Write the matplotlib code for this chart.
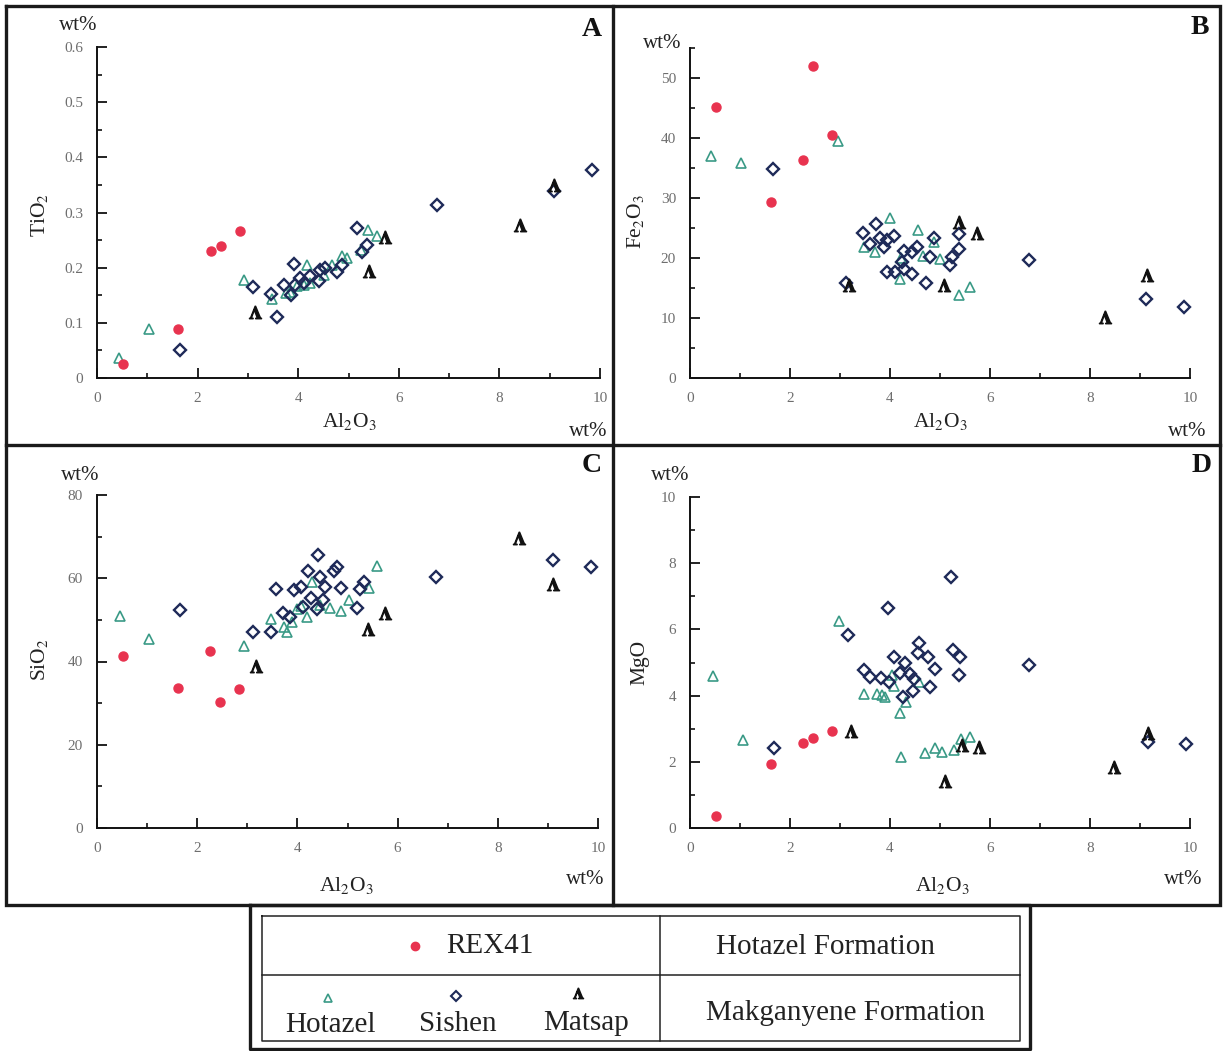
import matplotlib
matplotlib.use("Agg")
import matplotlib.pyplot as plt
from matplotlib.ticker import MultipleLocator

plt.rcParams["font.family"] = ["Liberation Serif", "DejaVu Serif"]
plt.rcParams["mathtext.fontset"] = "stix"

W, H, DPI = 1224, 1051, 100

# ---------------- data (wt%) ----------------
# REX41 drill core, Hotazel Formation
rex_al2o3 = [0.52, 1.62, 2.26, 2.46, 2.84]
rex_tio2 = [0.025, 0.088, 0.231, 0.240, 0.267]
rex_fe2o3 = [45.1, 29.3, 36.4, 52.0, 40.5]
rex_sio2 = [41.4, 33.6, 42.6, 30.3, 33.3]
rex_mgo = [0.36, 1.93, 2.58, 2.73, 2.94]

# Makganyene Formation - Hotazel samples
hot_al2o3_A = [0.44, 1.04, 2.93, 3.48, 3.75, 3.84, 3.98, 4.11, 4.18, 4.24, 4.51, 4.67, 4.87, 4.97, 5.24, 5.38, 5.56]
hot_tio2 = [0.036, 0.088, 0.178, 0.144, 0.154, 0.156, 0.166, 0.169, 0.205, 0.172, 0.187, 0.205, 0.221, 0.217, 0.232, 0.268, 0.257]
hot_al2o3_B = [0.42, 1.02, 2.95, 3.47, 3.70, 4.00, 4.20, 4.21, 4.55, 4.65, 4.88, 5.00, 5.38, 5.60]
hot_fe2o3 = [37.0, 35.9, 39.5, 21.9, 21.0, 26.7, 16.5, 20.0, 24.6, 20.4, 22.6, 19.9, 13.8, 15.2]
hot_al2o3_C = [0.45, 1.04, 2.94, 3.47, 3.73, 3.79, 3.89, 3.99, 4.07, 4.19, 4.29, 4.45, 4.66, 4.88, 5.02, 5.42, 5.59]
hot_sio2 = [50.9, 45.3, 43.7, 50.1, 48.2, 47.2, 49.6, 52.5, 53.3, 50.6, 59.2, 53.6, 52.8, 52.2, 54.8, 57.6, 62.9]
hot_al2o3_D = [0.45, 1.05, 2.98, 3.48, 3.73, 3.83, 3.90, 4.03, 4.08, 4.20, 4.21, 4.32, 4.57, 4.70, 4.90, 5.03, 5.27, 5.41, 5.60]
hot_mgo = [4.59, 2.66, 6.26, 4.05, 4.05, 4.02, 3.97, 4.62, 4.29, 3.47, 2.13, 3.82, 4.42, 2.26, 2.41, 2.31, 2.36, 2.69, 2.76]

# Makganyene Formation - Sishen samples
sis_al2o3_A = [1.65, 3.11, 3.45, 3.57, 3.71, 3.85, 3.92, 3.94, 4.04, 4.11, 4.24, 4.41, 4.44, 4.54, 4.77, 4.87, 5.17, 5.27, 5.36, 6.75, 9.08, 9.84]
sis_tio2 = [0.050, 0.165, 0.152, 0.111, 0.169, 0.150, 0.206, 0.169, 0.181, 0.172, 0.184, 0.175, 0.196, 0.199, 0.193, 0.205, 0.272, 0.229, 0.241, 0.313, 0.339, 0.377]
sis_al2o3_B = [1.66, 3.12, 3.45, 3.59, 3.71, 3.80, 3.87, 3.93, 3.93, 4.07, 4.10, 4.23, 4.27, 4.28, 4.43, 4.43, 4.53, 4.72, 4.79, 4.87, 5.19, 5.23, 5.37, 5.37, 6.77, 9.12, 9.88]
sis_fe2o3 = [34.8, 15.8, 24.1, 22.3, 25.7, 23.3, 21.8, 23.0, 17.7, 23.6, 17.7, 19.4, 18.1, 21.2, 21.0, 17.4, 21.8, 15.8, 20.1, 23.3, 18.8, 20.1, 24.0, 21.5, 19.6, 13.2, 11.8]
sis_al2o3_C = [1.66, 3.12, 3.47, 3.57, 3.72, 3.85, 3.93, 4.07, 4.12, 4.22, 4.27, 4.39, 4.42, 4.45, 4.52, 4.55, 4.74, 4.80, 4.88, 5.18, 5.24, 5.33, 6.77, 9.10, 9.86]
sis_sio2 = [52.4, 47.2, 47.2, 57.4, 51.6, 50.8, 57.2, 57.8, 53.2, 61.8, 55.2, 52.5, 65.6, 60.2, 54.8, 57.8, 61.8, 62.8, 57.6, 52.9, 57.3, 59.2, 60.4, 64.4, 62.6]
sis_al2o3_D = [1.68, 3.15, 3.47, 3.60, 3.81, 3.95, 3.97, 4.08, 4.20, 4.25, 4.30, 4.40, 4.45, 4.48, 4.55, 4.57, 4.75, 4.80, 4.90, 5.21, 5.25, 5.37, 5.39, 6.78, 9.15, 9.91]
sis_mgo = [2.41, 5.83, 4.77, 4.55, 4.52, 6.64, 4.42, 5.18, 4.67, 3.97, 4.99, 4.64, 4.15, 4.49, 5.30, 5.60, 5.16, 4.27, 4.81, 7.57, 5.39, 4.62, 5.18, 4.91, 2.61, 2.54]

# Makganyene Formation - Matsap samples
mat_al2o3_A = [3.15, 5.40, 5.72, 8.41, 9.08]
mat_tio2 = [0.120, 0.194, 0.255, 0.277, 0.350]
mat_al2o3_B = [3.17, 5.07, 5.37, 5.73, 8.30, 9.14]
mat_fe2o3 = [15.5, 15.5, 26.05, 24.1, 10.2, 17.2]
mat_al2o3_C = [3.17, 5.40, 5.74, 8.42, 9.10]
mat_sio2 = [38.9, 47.8, 51.6, 69.6, 58.6]
mat_al2o3_D = [3.22, 5.10, 5.43, 5.77, 8.47, 9.15]
mat_mgo = [2.93, 1.42, 2.51, 2.46, 1.85, 2.88]

# tick labels
x_ticks = [0, 2, 4, 6, 8, 10]
x_tick_labels = ["0", "2", "4", "6", "8", "10"]
tio2_ticks = [0, 0.1, 0.2, 0.3, 0.4, 0.5, 0.6]
tio2_tick_labels = ["0", "0.1", "0.2", "0.3", "0.4", "0.5", "0.6"]
fe2o3_ticks = [0, 10, 20, 30, 40, 50]
sio2_ticks = [0, 20, 40, 60, 80]
mgo_ticks = [0, 2, 4, 6, 8, 10]

# ---------------- styles ----------------
C_REX = "#e8334f"
C_HOT = "#3a9a86"
C_SIS = "#1e2a58"
C_MAT = "#111111"
TICK_GRAY = "#6e6e6e"
MAT_MARKER = r"$\mathbf{\Lambda}$"

fig = plt.figure(figsize=(W / DPI, H / DPI), dpi=DPI)
fig.patch.set_facecolor("white")


def px_axes(x0, x1, ybot, ytop):
    return fig.add_axes([x0 / W, 1 - ybot / H, (x1 - x0) / W, (ybot - ytop) / H])


def style_axes(ax, ylim, yticks, yminor, ylabels=None):
    ax.set_xlim(0, 10)
    ax.set_ylim(*ylim)
    ax.set_facecolor("none")
    for s in ("top", "right"):
        ax.spines[s].set_visible(False)
    for s in ("left", "bottom"):
        ax.spines[s].set_linewidth(1.4)
        ax.spines[s].set_color("#111111")
    ax.spines["left"].set_bounds(ylim[0], ylim[1])
    ax.set_xticks(x_ticks)
    ax.set_xticklabels(x_tick_labels)
    ax.set_yticks(yticks)
    if ylabels is not None:
        ax.set_yticklabels(ylabels)
    ax.xaxis.set_minor_locator(MultipleLocator(1))
    ax.yaxis.set_minor_locator(MultipleLocator(yminor))
    ax.tick_params(which="major", direction="in", length=7, width=1.3,
                   labelsize=11, labelcolor=TICK_GRAY, pad=10, color="#111111")
    ax.tick_params(which="minor", direction="in", length=3.5, width=1.2, color="#111111")


def draw_points(ax, rex, hot, sis, mat):
    ax.plot(*hot, ls="none", marker="^", ms=6.5, mfc="none", mec=C_HOT, mew=1.2, clip_on=False, zorder=3)
    ax.plot(*sis, ls="none", marker="D", ms=6.0, mfc="none", mec=C_SIS, mew=1.7, clip_on=False, zorder=4)
    ax.plot(*mat, ls="none", marker=MAT_MARKER, ms=9, mfc=C_MAT, mec=C_MAT, clip_on=False, zorder=5)
    ax.plot(*rex, ls="none", marker="o", ms=6.5, mfc=C_REX, mec=C_REX, clip_on=False, zorder=6)


axA = px_axes(97, 600, 378, 47)
style_axes(axA, (0, 0.6), tio2_ticks, 0.05, tio2_tick_labels)
draw_points(axA, (rex_al2o3, rex_tio2), (hot_al2o3_A, hot_tio2),
            (sis_al2o3_A, sis_tio2), (mat_al2o3_A, mat_tio2))

axB = px_axes(690, 1190, 378, 48)
style_axes(axB, (0, 55), fe2o3_ticks, 5)
draw_points(axB, (rex_al2o3, rex_fe2o3), (hot_al2o3_B, hot_fe2o3),
            (sis_al2o3_B, sis_fe2o3), (mat_al2o3_B, mat_fe2o3))

axC = px_axes(97, 598, 828, 495)
style_axes(axC, (0, 80), sio2_ticks, 10)
draw_points(axC, (rex_al2o3, rex_sio2), (hot_al2o3_C, hot_sio2),
            (sis_al2o3_C, sis_sio2), (mat_al2o3_C, mat_sio2))

axD = px_axes(690, 1190, 828, 497)
style_axes(axD, (0, 10), mgo_ticks, 1)
draw_points(axD, (rex_al2o3, rex_mgo), (hot_al2o3_D, hot_mgo),
            (sis_al2o3_D, sis_mgo), (mat_al2o3_D, mat_mgo))

# ---------------- overlay: frames, labels, legend table ----------------
ov = fig.add_axes([0, 0, 1, 1])
ov.set_xlim(0, W)
ov.set_ylim(H, 0)
ov.axis("off")
ov.patch.set_visible(False)

FRAME_LW = 2.4
# panel frames
ov.plot([6, 1220, 1220, 6, 6], [6, 6, 905, 905, 6], color="#1a1a1a", lw=FRAME_LW, solid_joinstyle="miter")
ov.plot([613, 613], [6, 905], color="#1a1a1a", lw=FRAME_LW)
ov.plot([6, 1220], [445, 445], color="#1a1a1a", lw=FRAME_LW)

# panel letters
for (lx, ly, letter) in [(592, 30, "A"), (1200, 28, "B"), (592, 466, "C"), (1202, 466, "D")]:
    ov.text(lx, ly, letter, fontsize=20, fontweight="bold", ha="center", va="center", color="#111111")

# unit labels
for (ux, uy) in [(78, 26), (662, 44), (80, 475), (670, 475)]:
    ov.text(ux, uy, "wt%", fontsize=15, ha="center", va="center", color="#222222")
for (ux, uy) in [(588, 431), (1187, 431), (585, 879), (1183, 879)]:
    ov.text(ux, uy, "wt%", fontsize=15, ha="center", va="center", color="#222222")

# x-axis labels
for (lx, ly) in [(349, 422), (940, 422), (346, 886), (942, 886)]:
    ov.text(lx, ly, r"Al$_2$O$_3$", fontsize=15.5, ha="center", va="center", color="#222222")

# y-axis labels
ov.text(40, 215, r"TiO$_2$", fontsize=15.5, rotation=90, ha="center", va="center", color="#222222")
ov.text(636, 222, r"Fe$_2$O$_3$", fontsize=15.5, rotation=90, ha="center", va="center", color="#222222")
ov.text(40, 660, r"SiO$_2$", fontsize=15.5, rotation=90, ha="center", va="center", color="#222222")
ov.text(640, 662, "MgO", fontsize=15.5, rotation=90, ha="center", va="center", color="#222222")

# legend table
ov.plot([250, 1030, 1030, 250, 250], [905, 905, 1049, 1049, 905], color="#1a1a1a", lw=FRAME_LW)
ov.plot([262, 1020, 1020, 262, 262], [916, 916, 1041, 1041, 916], color="#222222", lw=1.1)
ov.plot([262, 1020], [975, 975], color="#222222", lw=1.1)
ov.plot([660, 660], [916, 1041], color="#222222", lw=1.1)

ov.plot([415], [946], ls="none", marker="o", ms=6, mfc=C_REX, mec=C_REX)
ov.text(490, 946, "REX41", fontsize=21, ha="center", va="center", color="#222222")
ov.text(825, 947, "Hotazel Formation", fontsize=21, ha="center", va="center", color="#222222")

ov.plot([328], [998], ls="none", marker="^", ms=5.5, mfc="none", mec=C_HOT, mew=1.2)
ov.plot([456], [996], ls="none", marker="D", ms=5.2, mfc="none", mec=C_SIS, mew=1.5)
ov.plot([578], [993], ls="none", marker=MAT_MARKER, ms=7.5, mfc=C_MAT, mec=C_MAT)
ov.text(330, 1025, "Hotazel", fontsize=21, ha="center", va="center", color="#222222")
ov.text(458, 1024, "Sishen", fontsize=21, ha="center", va="center", color="#222222")
ov.text(586, 1023, "Matsap", fontsize=21, ha="center", va="center", color="#222222")
ov.text(845, 1013, "Makganyene Formation", fontsize=21, ha="center", va="center", color="#222222")

fig.savefig("out.png", dpi=DPI, facecolor="white")
